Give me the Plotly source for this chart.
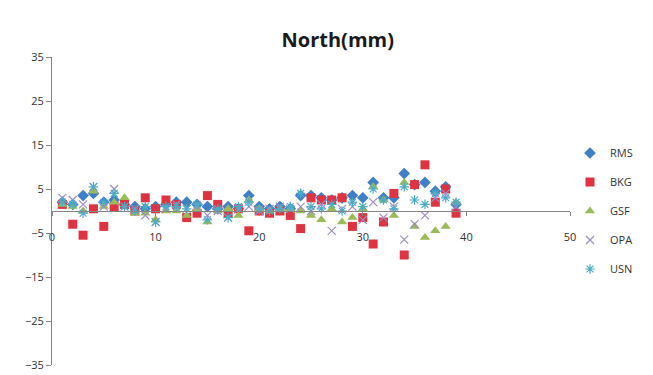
import plotly.graph_objects as go

# station index along the x axis
station = list(range(1, 40))

rms = [2, 1.5, 3.5, 4, 2, 2.5, 1.5, 1, 0.5, 1, 1.5, 2, 2, 1.5, 1, 0.5, 1, 0.5, 3.5, 1,
       0.5, 1, 0.5, 3.5, 3.5, 3, 2.5, 3, 3.5, 3, 6.5, 3, 3, 8.5, 6, 6.5, 4.5, 5.5, 1.5]
bkg = [1.5, -3, -5.5, 0.5, -3.5, 1, 1.5, 0, 3, 0.5, 2.5, 1.5, -1.5, -0.5, 3.5, 1.5, -0.5, 0.5, -4.5, 0,
       -0.5, 0, -1, -4, 3, 2.5, 2.5, 3, -3.5, -1.5, -7.5, -2.5, 4, -10, 6, 10.5, 2, 5, -0.5]
gsf = [1.5, 1, 0, 4.5, 1, 2, 3, -0.5, -0.5, -2, 0, 0, -1, 0.5, -2.5, 0, 0.5, -1, 2.5, 0.5,
       0, 0.5, 0.5, 0, -1, -2, 0.5, -2.5, -1.5, 0.5, 5.5, 2.5, -1, 6.5, -3.5, -6, -4.5, -3.5, 2]
opa = [3, 2.5, 1.5, 5.5, 1, 5, 1, 0.5, -1, -2.5, 0.5, 1.5, 0.5, 1, -1, 0, -1.5, 0.5, 1, 0,
       0.5, 1, 0.5, 1, 0, 1.5, -4.5, 0.5, 1, -2, 2, -1.5, 1, -6.5, -3, -1, 3, 4, 1]
usn = [2, 1.5, -0.5, 5.5, 2, 4, 1, 0, 1, -2.5, 1, 1, 0.5, 1.5, -2, 0.5, -1.5, 1, 2, 0.5,
       0, 0.5, 1, 4, 1, 0.5, 1.5, 0, 2, 1, 5, 2.5, 0.5, 5.5, 2.5, 1.5, 4, 3, 2]

y_ticks = [-35, -25, -15, -5, 5, 15, 25, 35]
x_ticks = [0, 10, 20, 30, 40, 50]

FONT = "'Open Sans', 'DejaVu Sans', sans-serif"

series = [
    ('RMS', rms, dict(symbol='diamond', size=9, color='#3F7FC6')),
    ('BKG', bkg, dict(symbol='square', size=9, color='#DE3340')),
    ('GSF', gsf, dict(symbol='triangle-up', size=9, color='#9BBB59')),
    ('OPA', opa, dict(symbol='x-thin-open', size=8, color='#9E8CC8', line=dict(width=1.2, color='#9E8CC8'))),
    ('USN', usn, dict(symbol='asterisk-open', size=8, color='#4BACC6', line=dict(width=1.2, color='#4BACC6'))),
]

fig = go.Figure()
for name, vals, marker in series:
    fig.add_trace(go.Scatter(
        x=station, y=vals, mode='markers', name=name,
        marker=marker, legendgroup=name
    ))

fig.update_layout(
    width=653, height=375,
    title=dict(text='<b>North(mm)</b>', x=0.505, xanchor='center', y=0.915, yanchor='middle',
               font=dict(size=20, family=FONT, color='#1a1a1a')),
    xaxis=dict(
        range=[0, 50], tickvals=x_ticks, anchor='free', position=0.5,
        showline=True, linecolor='#868686', linewidth=1,
        ticks='outside', ticklen=4, tickcolor='#868686',
        ticklabelstandoff=12, showgrid=False, zeroline=False, automargin=False,
        tickfont=dict(size=11, family=FONT, color='#333333')
    ),
    yaxis=dict(
        range=[-35, 35], tickvals=y_ticks,
        showline=True, linecolor='#868686', linewidth=1,
        ticks='outside', ticklen=5, tickcolor='#868686',
        showgrid=False, zeroline=False, automargin=False,
        tickfont=dict(size=11, family=FONT, color='#333333')
    ),
    legend=dict(x=1.0, xanchor='left', y=0.5, yanchor='middle',
                tracegroupgap=10, itemwidth=30, bgcolor='rgba(0,0,0,0)',
                font=dict(size=11, family=FONT, color='#333333')),
    plot_bgcolor='white', paper_bgcolor='white',
    margin=dict(l=44, r=91, t=49, b=18)
)

fig.write_html("out.html")
